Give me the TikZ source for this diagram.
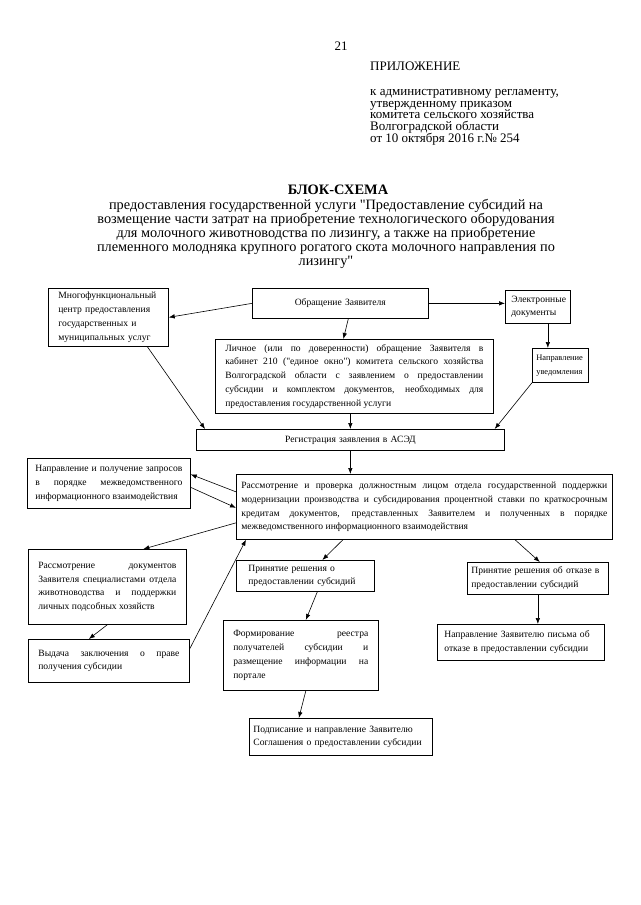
\documentclass[tikz,border=0pt]{standalone}
\usepackage{fontspec}
\setmainfont{Liberation Serif}[Ligatures=TeXOff]
\usetikzlibrary{arrows.meta}
\newcommand{\boxfont}{\fontsize{9.6}{13.8}\selectfont\hyphenpenalty=10000}
\newcommand{\headfont}{\fontsize{13}{11.8}\selectfont\lineskiplimit=-8pt}
\newcommand{\subfont}{\fontsize{14.3}{13.8}\selectfont\lineskiplimit=-8pt}
\begin{document}
\begin{tikzpicture}[x=1pt, y=-1pt,
    box/.style={draw, line width=0.7pt, anchor=north west, inner ysep=1pt, font=\boxfont},
    jbox/.style={box, align=justify},
    lbox/.style={box, align=left},
    cbox/.style={box, align=center},
    arr/.style={-{Latex[length=6pt,width=4.5pt]}, line width=0.6pt},
    head/.style={font=\headfont, inner sep=0pt}]
  \useasboundingbox (0,0) rectangle (640,905);

  \node[head] (num) at (341,46) {21};
  \node[head, anchor=west] (pril) at (370,66) {ПРИЛОЖЕНИЕ};
  \node[head, anchor=north west, align=left] (reglam) at (370,89)
    {к административному регламенту,\\утвержденному приказом\\комитета сельского хозяйства\\Волгоградской области\\от 10 октября 2016 г.№ 254};

  \node[font=\bfseries\fontsize{14.4}{15}\selectfont, inner sep=0pt] (title) at (338,190) {БЛОК-СХЕМА};
  \node[font=\subfont, align=center, inner sep=0pt] (sub) at (326,234)
    {предоставления государственной услуги "Предоставление субсидий на\\возмещение части затрат на приобретение технологического оборудования\\для молочного животноводства по лизингу, а также на приобретение\\племенного молодняка крупного рогатого скота молочного направления по\\лизингу"};

  \node[lbox, text width=100pt, inner xsep=10pt, minimum height=58pt] (mfc) at (48,288)
    {Многофункциональный\\центр предоставления\\государственных и\\муниципальных услуг};
  \node[cbox, text width=160pt, inner xsep=8pt, minimum height=30pt] (obr) at (252,288) {Обращение Заявителя};
  \node[lbox, text width=53pt, inner xsep=6pt, minimum height=33pt] (edoc) at (505,290) {Электронные\\документы};
  \node[lbox, text width=48pt, inner xsep=4pt, minimum height=34pt, font=\fontsize{8.4}{13.8}\selectfont] (napr) at (532,348)
    {Направление\\уведомления};
  \node[jbox, text width=258pt, inner xsep=10pt, minimum height=74pt] (lich) at (215,339)
    {Личное (или по доверенности) обращение Заявителя в\linebreak кабинет 210 ("единое окно") комитета сельского хозяйства\linebreak Волгоградской области с заявлением о предоставлении\linebreak субсидии и комплектом документов, необходимых для\linebreak предоставления государственной услуги};
  \node[cbox, text width=300pt, inner xsep=4pt, minimum height=21pt] (reg) at (196,429) {Регистрация заявления в АСЭД};

  \node[jbox, text width=147pt, inner xsep=8pt, minimum height=50pt] (zapr) at (27,458)
    {Направление и получение запросов\linebreak в порядке межведомственного\linebreak информационного взаимодействия};
  \node[jbox, text width=366pt, inner xsep=5pt, minimum height=65pt] (rass) at (236,474)
    {Рассмотрение и проверка должностным лицом отдела государственной поддержки\linebreak модернизации производства и субсидирования процентной ставки по краткосрочным\linebreak кредитам документов, представленных Заявителем и полученных в порядке\linebreak межведомственного информационного взаимодействия};

  \node[jbox, text width=138pt, inner xsep=10pt, minimum height=75pt] (docs) at (28,549)
    {Рассмотрение документов\linebreak Заявителя специалистами отдела\linebreak животноводства и поддержки\linebreak личных подсобных хозяйств\par\vspace*{18pt}};
  \node[lbox, text width=114pt, inner xsep=12pt, minimum height=31pt] (prin) at (236,560)
    {Принятие решения о\\предоставлении субсидий};
  \node[lbox, text width=133pt, inner xsep=4pt, minimum height=32pt] (otk) at (467,562)
    {Принятие решения об отказе в\\предоставлении субсидий};
  \node[jbox, text width=135pt, inner xsep=10pt, minimum height=70pt] (form) at (223,620)
    {Формирование реестра\linebreak получателей субсидии и\linebreak размещение информации на\linebreak портале};
  \node[lbox, text width=153pt, inner xsep=7pt, minimum height=36pt] (napotk) at (437,624)
    {Направление Заявителю письма об\\отказе в предоставлении субсидии};
  \node[jbox, text width=141pt, inner xsep=10pt, minimum height=43pt] (vyd) at (28,639)
    {Выдача заключения о праве\linebreak получения субсидии};
  \node[lbox, text width=175pt, inner xsep=4pt, minimum height=37pt] (podp) at (249,718)
    {Подписание и направление Заявителю\\Соглашения о предоставлении субсидии};

  \draw[arr] (obr.west) -- (mfc.east);
  \draw[arr] ([xshift=8pt]obr.south) -- ([xshift=-11pt]lich.north);
  \draw[arr] (obr.east) -- (obr.east -| edoc.west);
  \draw[arr] ([xshift=10pt]edoc.south) -- ([xshift=10pt]edoc.south |- napr.north);
  \draw[arr] ([xshift=39pt]mfc.south) -- ([xshift=9pt]reg.north west);
  \draw[arr] (reg.north |- lich.south) -- (reg.north);
  \draw[arr] (napr.south west) -- ([xshift=-10pt]reg.north east);
  \draw[arr] (reg.south) -- (reg.south |- rass.north);
  \draw[arr] ([yshift=15pt]rass.west) -- ([yshift=9pt]zapr.east);
  \draw[arr] ([yshift=-4pt]zapr.east) -- ([yshift=-1pt]rass.west);
  \draw[arr] ([yshift=-16pt]rass.west) -- ([xshift=36pt]docs.north);
  \draw[arr] (docs.south) -- ([xshift=-20pt]vyd.north);
  \draw[arr] ([yshift=12pt]vyd.east) -- ([xshift=10pt]rass.south west);
  \draw[arr] ([xshift=107pt]rass.south west) -- ([xshift=17pt]prin.north);
  \draw[arr] ([xshift=279pt]rass.south west) -- ([xshift=2pt]otk.north);
  \draw[arr] ([xshift=12pt]prin.south) -- ([xshift=5pt]form.north);
  \draw[arr] (otk.south) -- (otk.south |- napotk.north);
  \draw[arr] ([xshift=5pt]form.south) -- ([xshift=-42pt]podp.north);
\end{tikzpicture}
\end{document}
